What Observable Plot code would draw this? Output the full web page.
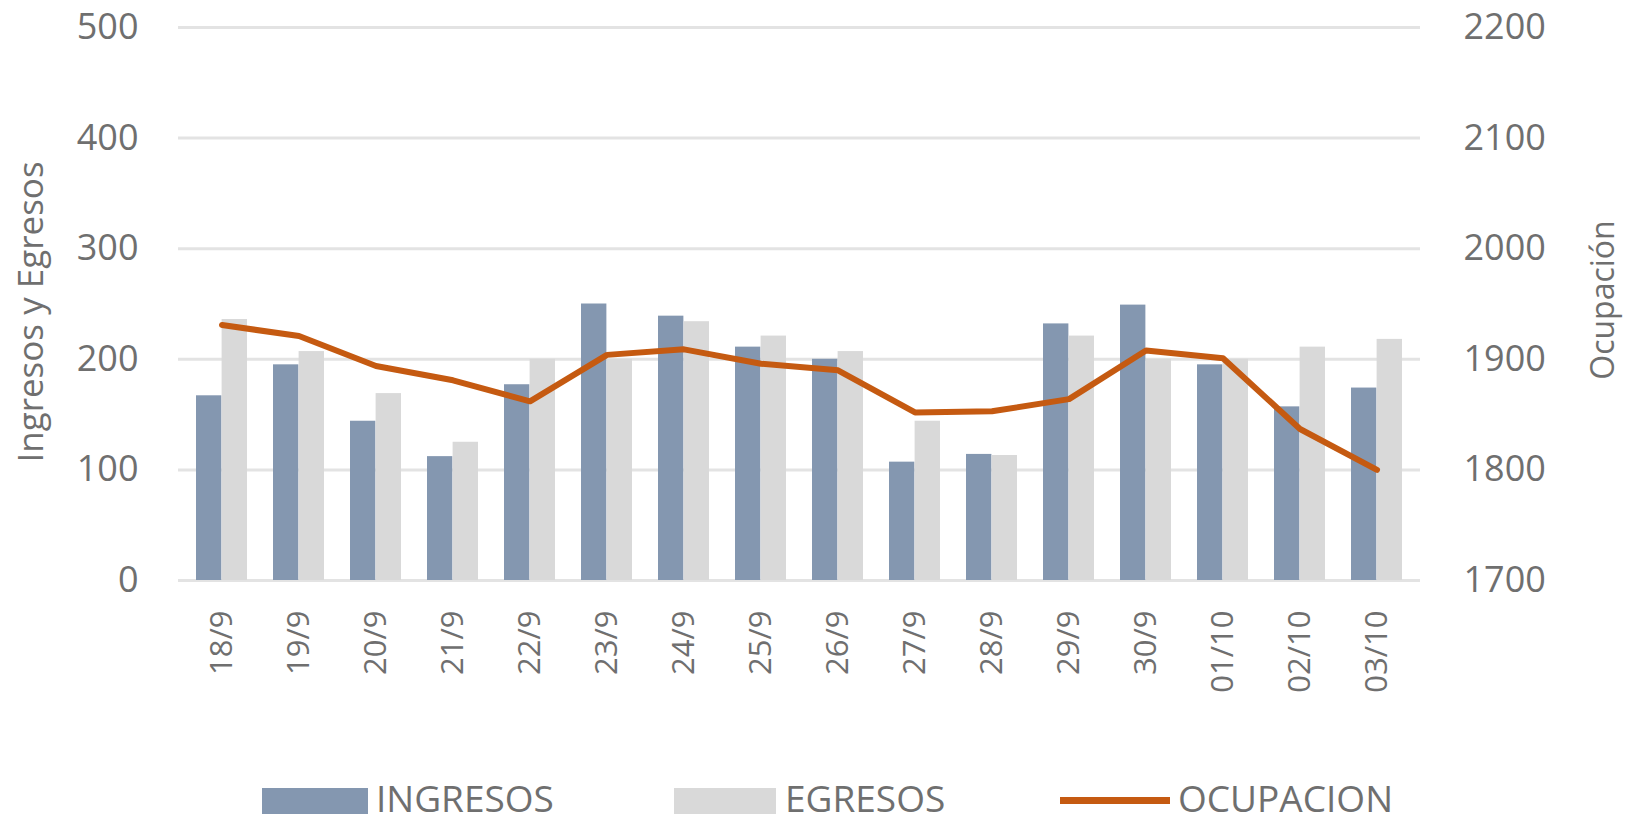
<!DOCTYPE html>
<html>
<head>
<meta charset="utf-8">
<script src="https://cdn.jsdelivr.net/npm/d3@7"></script>
<script src="https://cdn.jsdelivr.net/npm/@observablehq/plot@0.6"></script>
<style>
  html, body { margin: 0; padding: 0; background: #fff; }
  #wrap { width: 1627px; height: 822px; position: relative; overflow: hidden; font-family: "Open Sans", sans-serif; }
  #legend { position: relative; width: 1627px; height: 52px; }
  .sw { position: absolute; }
  .lt { position: absolute; top: 6px; font-size: 37px; line-height: 44px; color: #6f6f6f; }
</style>
</head>
<body>
<div id="wrap">
  <div id="chart"></div>
  <div id="legend">
    <div class="sw" style="left:262px; top:18px; width:106px; height:26px; background:#8497b0;"></div>
    <div class="lt" style="left:376px;">INGRESOS</div>
    <div class="sw" style="left:674px; top:18px; width:102px; height:26px; background:#d9d9d9;"></div>
    <div class="lt" style="left:785px;">EGRESOS</div>
    <div class="sw" style="left:1060px; top:27px; width:110px; height:7px; background:#c55a11;"></div>
    <div class="lt" style="left:1178px;">OCUPACION</div>
  </div>
</div>
<script>
const dates = ["18/9","19/9","20/9","21/9","22/9","23/9","24/9","25/9","26/9","27/9","28/9","29/9","30/9","01/10","02/10","03/10"];
const ingresos = [167,195,144,112,177,250,239,211,200,107,114,232,249,195,157,174];
const egresos  = [236,207,169,125,200,200,234,221,207,144,113,221,200,200,211,218];
const ocupacion = [1931,1921,1894,1881,1862,1904,1909,1896,1890,1852,1853,1864,1908,1901,1837,1800];
const leftTicks = [0,100,200,300,400,500];
const rightBase = 1700;

const table = dates.map((d, i) => ({date: d, ingresos: ingresos[i], egresos: egresos[i], ocupacion: ocupacion[i]}));

const width = 1627, height = 770;
const ml = 178, mr = 207, mt = 27, mb = 190;
const padIn = 0.34, padOut = 0.17;
const step = (width - ml - mr) / (dates.length - padIn + 2 * padOut);
const bw = step * (1 - padIn);
const txt = "#6f6f6f";

const chart = Plot.plot({
  width, height,
  marginLeft: ml, marginRight: mr, marginTop: mt, marginBottom: mb,
  style: {fontFamily: "Open Sans", color: txt, background: "white", overflow: "visible"},
  x: {type: "band", domain: dates, paddingInner: padIn, paddingOuter: padOut},
  y: {domain: [0, 500]},
  marks: [
    Plot.ruleY(leftTicks, {stroke: "#e3e3e3", strokeWidth: 3}),
    Plot.barY(table, {x: "date", y: "ingresos", fill: "#8497b0", insetRight: bw / 2}),
    Plot.barY(table, {x: "date", y: "egresos", fill: "#d9d9d9", insetLeft: bw / 2}),
    Plot.line(table, {x: "date", y: d => d.ocupacion - rightBase, stroke: "#c55a11", strokeWidth: 6, strokeLinejoin: "round"}),
    Plot.axisY({ticks: leftTicks, anchor: "left", tickSize: 0, tickPadding: 40, fontSize: 36, label: null}),
    Plot.axisY({ticks: leftTicks, anchor: "right", tickSize: 0, tickPadding: 43, fontSize: 36, label: null, tickFormat: d => String(d + rightBase)}),
    Plot.axisX({anchor: "bottom", tickRotate: -90, tickSize: 0, tickPadding: 30, fontSize: 31, label: null}),
    Plot.text(["Ingresos y Egresos"], {text: d => d, frameAnchor: "left", textAnchor: "middle", dx: -147, dy: 8, rotate: -90, fontSize: 35, fill: txt}),
    Plot.text(["Ocupación"], {text: d => d, frameAnchor: "right", textAnchor: "middle", dx: 183, dy: -4, rotate: -90, fontSize: 32, fill: txt})
  ]
});
document.getElementById("chart").appendChild(chart);
</script>
</body>
</html>
